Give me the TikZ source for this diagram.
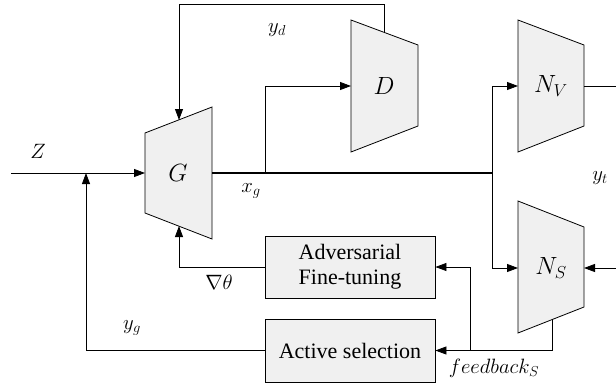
\documentclass[tikz,border=0pt]{standalone}
\usepackage{fontspec}
\setmainfont{Liberation Serif}
\usetikzlibrary{arrows.meta}
\definecolor{boxfill}{RGB}{240,240,240}
\begin{document}
\begin{tikzpicture}[x=1pt,y=-1pt,
  line width=0.8pt,
  conn/.style={draw=black, line width=0.8pt},
  arr/.style={conn, -{Triangle[length=11pt,width=8pt]}},
  thickline/.style={draw=black, line width=1.6pt},
  trap/.style={draw=black, fill=boxfill, line width=0.8pt, line join=miter},
  blocklabel/.style={font=\fontsize{27}{30}\selectfont, inner sep=0pt},
  sig/.style={font=\fontsize{21}{25}\selectfont, inner sep=0pt},
  procbox/.style={draw=black, fill=boxfill, line width=0.8pt, minimum width=170pt, align=center, inner sep=0pt, font=\fontsize{22}{25}\selectfont}
]
\useasboundingbox (0,0) rectangle (616,384);

% trapezoids
\path[trap] (145,133) -- (212,107) -- (212,239) -- (145,213) -- cycle;
\node[blocklabel] (G) at (178,173) {$G$};
\path[trap] (351,20) -- (418,45) -- (418,126) -- (351,152) -- cycle;
\node[blocklabel] (D) at (384,86) {$D$};
\path[trap] (518,20) -- (584,45) -- (584,126) -- (518,152) -- cycle;
\node[blocklabel] (NV) at (551,86) {$N_V$};
\path[trap] (518,201) -- (584,227) -- (584,307) -- (518,333) -- cycle;
\node[blocklabel] (NS) at (551,268) {$N_S$};

% boxes
\node[procbox, minimum height=62pt] (adv) at (350,267) {Adversarial\\Fine-tuning};
\node[procbox, minimum height=63pt] (act) at (350,350.5) {Active selection};

% ports
\coordinate (zin) at (11,173);
\coordinate (Gin) at (145,173);
\coordinate (Gout) at (212,173);
\coordinate (Gtop) at (179,120);
\coordinate (Gbot) at (179,226);
\coordinate (Din) at (351,86);
\coordinate (Dtop) at (384,32.3);
\coordinate (NVin) at (518,86);
\coordinate (NVout) at (584,86);
\coordinate (NVend) at (616,86);
\coordinate (NSin) at (518,268);
\coordinate (NSright) at (584,268);
\coordinate (NSext) at (616,268);
\coordinate (NSbot) at (552,319.6);
\coordinate (split1) at (265,173);
\coordinate (split2) at (492,173);
\coordinate (fbsplit) at (470,350);
\coordinate (ygjoin) at (86,173);

% connectors
\draw[arr] (zin) -- (Gin);
\draw[thickline] (Gout) -- (split2);
\draw[arr] (split1) |- (Din);
\draw[conn] (split2) -- (492,86);
\draw[arr] (492,86) -- (NVin);
\draw[conn] (split2) -- (492,268);
\draw[arr] (492,268) -- (NSin);
\draw[conn] (NVout) -- (NVend);
\draw[arr] (NSext) -- (NSright);
\draw[arr] (Dtop) -- (384,4) -- (179,4) -- (Gtop);
\draw[arr] (NSbot) |- (act.east);
\draw[arr] (fbsplit) |- (adv.east);
\draw[arr] (adv.west) -| (Gbot);
\draw[arr] (act.west) -| (ygjoin);

% labels
\node[sig] (lz) at (38,151) {$Z$};
\node[sig] (lyd) at (277,30) {$y_d$};
\node[sig] (lxg) at (251,191) {$x_g$};
\node[sig] (lgrad) at (219,282) {$\nabla\theta$};
\node[sig] (lyg) at (132,328) {$y_g$};
\node[sig] (lfb) at (494,368) {$feedback_S$};
\node[sig] (lyt) at (600,178) {$y_t$};
\end{tikzpicture}
\end{document}
